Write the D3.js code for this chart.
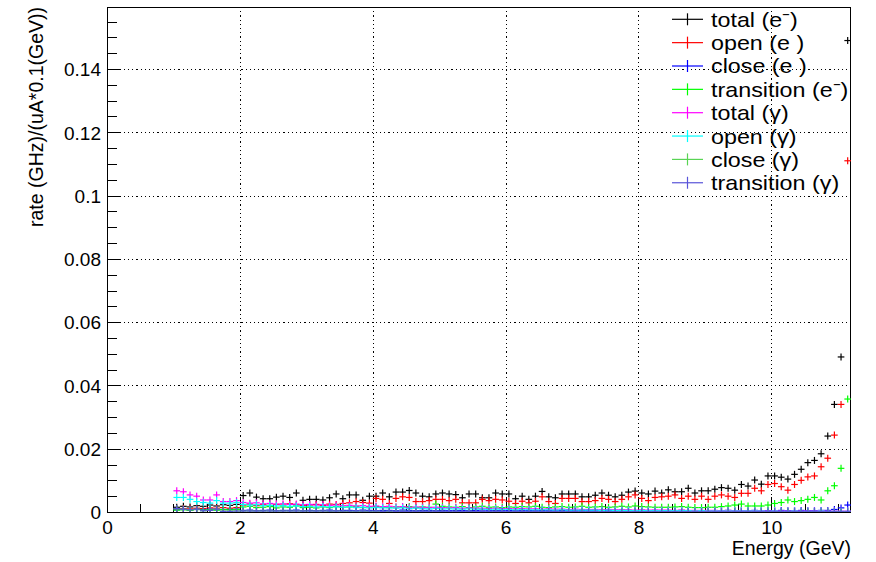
<!DOCTYPE html>
<html><head><meta charset="utf-8">
<script src="https://cdn.jsdelivr.net/npm/d3@7"></script>
<style>
body{margin:0;background:#fff}
svg{display:block}
text{font-family:"Liberation Sans",Arial,Helvetica,sans-serif;fill:#000}
</style>
</head><body>
<svg id="chart" width="876" height="562"></svg>
<script>
// ---------------- data ----------------
const binStart = 1.0, binWidth = 0.1, nBins = 102;
const energies = d3.range(nBins).map(i => +(binStart + binWidth * (i + 0.5)).toFixed(2));

const xTickLabels = ["0", "2", "4", "6", "8", "10"];
const yTickLabels = ["0", "0.02", "0.04", "0.06", "0.08", "0.1", "0.12", "0.14"];

const totalE = [
 0.0015,0.0018,0.0016,0.0020,0.0018,0.0022,0.0019,0.0023,0.0021,0.0024,
 0.0052,0.0060,0.0047,0.0042,0.0042,0.0047,0.0050,0.0046,0.0060,0.0037,
 0.0040,0.0040,0.0038,0.0045,0.0057,0.0042,0.0054,0.0054,0.0037,0.0050,
 0.0050,0.0060,0.0048,0.0063,0.0063,0.0068,0.0060,0.0050,0.0048,0.0057,
 0.0060,0.0057,0.0055,0.0045,0.0057,0.0057,0.0045,0.0045,0.0060,0.0057,
 0.0057,0.0042,0.0050,0.0040,0.0050,0.0065,0.0048,0.0045,0.0057,0.0057,
 0.0057,0.0048,0.0048,0.0053,0.0060,0.0053,0.0048,0.0053,0.0063,0.0066,
 0.0060,0.0057,0.0066,0.0060,0.0070,0.0064,0.0064,0.0075,0.0060,0.0067,
 0.0067,0.0072,0.0077,0.0075,0.0069,0.0087,0.0082,0.0101,0.0088,0.0114,
 0.0114,0.0110,0.0104,0.0119,0.0135,0.0156,0.0163,0.0184,0.0240,0.0340,
 0.0490,0.1490];

const openE = [
 0.0009,0.0011,0.0010,0.0012,0.0011,0.0013,0.0012,0.0014,0.0012,0.0014,
 0.0022,0.0025,0.0020,0.0023,0.0021,0.0024,0.0022,0.0026,0.0023,0.0021,
 0.0022,0.0024,0.0021,0.0025,0.0024,0.0027,0.0029,0.0033,0.0030,0.0028,
 0.0043,0.0040,0.0027,0.0043,0.0048,0.0046,0.0033,0.0033,0.0036,0.0040,
 0.0040,0.0036,0.0040,0.0029,0.0029,0.0029,0.0040,0.0036,0.0040,0.0038,
 0.0034,0.0027,0.0034,0.0029,0.0034,0.0048,0.0033,0.0027,0.0043,0.0043,
 0.0043,0.0033,0.0033,0.0036,0.0043,0.0040,0.0033,0.0040,0.0048,0.0054,
 0.0043,0.0036,0.0046,0.0048,0.0050,0.0054,0.0043,0.0050,0.0040,0.0050,
 0.0040,0.0050,0.0054,0.0050,0.0046,0.0059,0.0059,0.0075,0.0067,0.0087,
 0.0090,0.0080,0.0069,0.0087,0.0100,0.0111,0.0114,0.0143,0.0170,0.0243,
 0.0340,0.1110];

const closeE = [
 0.0007,0.0008,0.0006,0.0008,0.0007,0.0009,0.0007,0.0008,0.0008,0.0009,
 0.0005,0.0006,0.0004,0.0005,0.0006,0.0004,0.0005,0.0005,0.0006,0.0004,
 0.0005,0.0004,0.0005,0.0006,0.0004,0.0005,0.0005,0.0004,0.0006,0.0005,
 0.0004,0.0005,0.0005,0.0004,0.0006,0.0005,0.0004,0.0005,0.0005,0.0004,
 0.0005,0.0004,0.0005,0.0005,0.0004,0.0005,0.0006,0.0004,0.0005,0.0004,
 0.0005,0.0004,0.0004,0.0005,0.0004,0.0005,0.0004,0.0004,0.0005,0.0004,
 0.0004,0.0005,0.0004,0.0004,0.0005,0.0004,0.0004,0.0005,0.0004,0.0004,
 0.0004,0.0004,0.0005,0.0004,0.0004,0.0004,0.0005,0.0004,0.0004,0.0004,
 0.0004,0.0004,0.0004,0.0005,0.0004,0.0004,0.0004,0.0005,0.0004,0.0004,
 0.0004,0.0005,0.0004,0.0004,0.0005,0.0004,0.0004,0.0005,0.0005,0.0008,
 0.0013,0.0022];

const transE = [
 0.0006,0.0007,0.0005,0.0008,0.0006,0.0007,0.0006,0.0008,0.0007,0.0008,
 0.0016,0.0018,0.0014,0.0015,0.0017,0.0013,0.0016,0.0015,0.0019,0.0014,
 0.0015,0.0013,0.0016,0.0014,0.0017,0.0015,0.0016,0.0018,0.0014,0.0016,
 0.0017,0.0015,0.0014,0.0016,0.0015,0.0017,0.0014,0.0016,0.0015,0.0025,
 0.0018,0.0016,0.0015,0.0017,0.0014,0.0016,0.0018,0.0015,0.0016,0.0014,
 0.0016,0.0015,0.0017,0.0016,0.0018,0.0015,0.0014,0.0016,0.0017,0.0015,
 0.0016,0.0018,0.0015,0.0016,0.0017,0.0015,0.0016,0.0018,0.0016,0.0019,
 0.0017,0.0016,0.0015,0.0015,0.0015,0.0016,0.0017,0.0015,0.0014,0.0014,
 0.0015,0.0015,0.0017,0.0019,0.0022,0.0025,0.0019,0.0019,0.0019,0.0022,
 0.0027,0.0030,0.0038,0.0033,0.0036,0.0040,0.0046,0.0038,0.0067,0.0083,
 0.0138,0.0357];

const totalG = [
 0.0067,0.0064,0.0054,0.0050,0.0038,0.0038,0.0054,0.0033,0.0033,0.0036,
 0.0030,0.0028,0.0029,0.0026,0.0027,0.0025,0.0026,0.0024,0.0025,0.0023,
 0.0024,0.0022,0.0023,0.0021,0.0022,0.0020,0.0021,0.0019,0.0020,0.0018,
 0.0019,0.0017,0.0018,0.0016,0.0017,0.0015,0.0016,0.0015,0.0014,0.0015,
 0.0014,0.0013,0.0014,0.0012,0.0013,0.0012,0.0012,0.0011,0.0012,0.0011,
 0.0011,0.0010,0.0011,0.0010,0.0010,0.0009,0.0010,0.0009,0.0009,0.0008,
 0.0009,0.0008,0.0008,0.0008,0.0007,0.0008,0.0007,0.0007,0.0007,0.0006,
 0.0007,0.0006,0.0006,0.0006,0.0006,0.0005,0.0006,0.0005,0.0005,0.0005,
 0.0005,0.0005,0.0004,0.0005,0.0004,0.0004,0.0004,0.0004,0.0004,0.0003,
 0.0004,0.0003,0.0003,0.0004,0.0003,0.0003,0.0003,0.0004,0.0003,0.0003,
 0.0003,0.0003];

const openG = [
 0.0046,0.0046,0.0040,0.0033,0.0030,0.0028,0.0036,0.0028,0.0028,0.0030,
 0.0024,0.0022,0.0023,0.0020,0.0021,0.0019,0.0020,0.0018,0.0019,0.0017,
 0.0018,0.0016,0.0017,0.0016,0.0016,0.0015,0.0016,0.0014,0.0015,0.0013,
 0.0014,0.0013,0.0013,0.0012,0.0013,0.0011,0.0012,0.0011,0.0010,0.0011,
 0.0010,0.0010,0.0010,0.0009,0.0010,0.0009,0.0009,0.0008,0.0009,0.0008,
 0.0008,0.0007,0.0008,0.0007,0.0007,0.0007,0.0007,0.0006,0.0007,0.0006,
 0.0006,0.0006,0.0006,0.0006,0.0005,0.0006,0.0005,0.0005,0.0005,0.0004,
 0.0005,0.0004,0.0004,0.0004,0.0004,0.0004,0.0004,0.0004,0.0003,0.0004,
 0.0003,0.0003,0.0003,0.0003,0.0003,0.0003,0.0003,0.0003,0.0003,0.0002,
 0.0003,0.0002,0.0002,0.0003,0.0002,0.0002,0.0002,0.0003,0.0002,0.0002,
 0.0002,0.0002];

const closeG = [
 0.0010,0.0009,0.0007,0.0008,0.0004,0.0005,0.0009,0.0003,0.0003,0.0003,
 0.0003,0.0003,0.0003,0.0003,0.0003,0.0003,0.0003,0.0003,0.0003,0.0003,
 0.0003,0.0003,0.0003,0.0002,0.0003,0.0002,0.0002,0.0002,0.0002,0.0002,
 0.0002,0.0002,0.0002,0.0002,0.0002,0.0002,0.0002,0.0002,0.0002,0.0002,
 0.0002,0.0001,0.0002,0.0001,0.0002,0.0001,0.0001,0.0001,0.0002,0.0001,
 0.0001,0.0001,0.0001,0.0001,0.0001,0.0001,0.0001,0.0001,0.0001,0.0001,
 0.0001,0.0001,0.0001,0.0001,0.0001,0.0001,0.0001,0.0001,0.0001,0.0001,
 0.0001,0.0001,0.0001,0.0001,0.0001,0.0001,0.0001,0.0001,0.0001,0.0001,
 0.0001,0.0001,0.0001,0.0001,0.0001,0.0001,0.0001,0.0001,0.0001,0.0001,
 0.0001,0.0001,0.0001,0.0001,0.0001,0.0001,0.0001,0.0001,0.0001,0.0001,
 0.0001,0.0001];

const transG = [
 0.0011,0.0009,0.0007,0.0009,0.0004,0.0005,0.0009,0.0002,0.0002,0.0003,
 0.0003,0.0003,0.0003,0.0003,0.0003,0.0003,0.0003,0.0003,0.0003,0.0003,
 0.0003,0.0003,0.0003,0.0003,0.0003,0.0003,0.0003,0.0003,0.0003,0.0003,
 0.0003,0.0002,0.0003,0.0002,0.0002,0.0002,0.0002,0.0002,0.0002,0.0002,
 0.0002,0.0002,0.0002,0.0002,0.0002,0.0002,0.0002,0.0002,0.0002,0.0002,
 0.0002,0.0002,0.0002,0.0002,0.0002,0.0002,0.0002,0.0002,0.0002,0.0001,
 0.0002,0.0001,0.0001,0.0001,0.0001,0.0001,0.0001,0.0001,0.0001,0.0001,
 0.0001,0.0001,0.0001,0.0001,0.0001,0.0001,0.0001,0.0001,0.0001,0.0001,
 0.0001,0.0001,0.0001,0.0001,0.0001,0.0001,0.0001,0.0001,0.0001,0.0001,
 0.0001,0.0001,0.0001,0.0001,0.0001,0.0001,0.0001,0.0001,0.0001,0.0001,
 0.0001,0.0001];

const seriesLabels = ["total (e\u207B)", "open (e )", "close (e )", "transition (e\u207B)", "total (γ)", "open (γ)", "close (γ)", "transition (γ)"];
const seriesColors = ["#000000", "#ff0000", "#0000ff", "#00ff00", "#ff00ff", "#00ffff", "#59d454", "#5954d9"];
const seriesValues = [totalE, openE, closeE, transE, totalG, openG, closeG, transG];

// ---------------- layout ----------------
const M = {left: 107, right: 851, top: 7, bottom: 512};
const xMax = 11.2, yMax = 0.1596;

const svg = d3.select("#chart");
const x = d3.scaleLinear().domain([0, xMax]).range([M.left, M.right]);
const y = d3.scaleLinear().domain([0, yMax]).range([M.bottom, M.top]);

svg.append("defs").append("clipPath").attr("id", "plotclip")
  .append("rect").attr("x", M.left).attr("y", M.top)
  .attr("width", M.right - M.left).attr("height", M.bottom - M.top);

// grid
const xMajor = xTickLabels.map(Number);
const yMajor = yTickLabels.map(Number);
const grid = svg.append("g").attr("stroke", "#000").attr("stroke-width", 1)
  .attr("stroke-dasharray", "1.2,3").attr("shape-rendering", "crispEdges");
xMajor.filter(v => v > 0).forEach(v => {
  grid.append("line").attr("x1", Math.round(x(v)) + 0.5).attr("x2", Math.round(x(v)) + 0.5)
    .attr("y1", M.top).attr("y2", M.bottom);
});
yMajor.filter(v => v > 0).forEach(v => {
  grid.append("line").attr("y1", Math.round(y(v)) + 0.5).attr("y2", Math.round(y(v)) + 0.5)
    .attr("x1", M.left).attr("x2", M.right);
});

// axes (ticks inside)
const yMinor = d3.range(0, yMax, 0.005).filter(v => !yMajor.some(m => Math.abs(m - v) < 1e-9));
const xMinor = d3.range(0, xMax + 1e-9, 0.5).filter(v => !xMajor.some(m => Math.abs(m - v) < 1e-9));

const yAxis = svg.append("g").attr("transform", `translate(${M.left},0)`)
  .call(d3.axisLeft(y).tickValues(yMajor).tickSize(-13).tickPadding(19)
    .tickFormat((d, i) => yTickLabels[i]));
const yAxisMinor = svg.append("g").attr("transform", `translate(${M.left},0)`)
  .call(d3.axisLeft(y).tickValues(yMinor).tickSize(-10).tickFormat(""));
const xAxis = svg.append("g").attr("transform", `translate(0,${M.bottom})`)
  .call(d3.axisBottom(x).tickValues(xMajor).tickSize(-15).tickPadding(24)
    .tickFormat((d, i) => xTickLabels[i]));
const xAxisMinor = svg.append("g").attr("transform", `translate(0,${M.bottom})`)
  .call(d3.axisBottom(x).tickValues(xMinor).tickSize(-8).tickFormat(""));

[yAxis, yAxisMinor, xAxis, xAxisMinor].forEach(g => {
  g.select(".domain").remove();
  g.selectAll(".tick line").attr("stroke", "#000").attr("stroke-width", 1).attr("shape-rendering", "crispEdges");
  g.selectAll("text").attr("font-size", 19).attr("font-family", '"Liberation Sans", Arial, sans-serif').attr("fill", "#000");
});
yAxis.selectAll("text").attr("x", -6).attr("dy", "0.36em");
xAxis.selectAll("text").attr("y", 9).attr("dy", "0.71em");

// frame
svg.append("rect").attr("x", M.left + 0.5).attr("y", M.top + 0.5)
  .attr("width", M.right - M.left - 1).attr("height", M.bottom - M.top)
  .attr("fill", "none").attr("stroke", "#000").attr("stroke-width", 1).attr("shape-rendering", "crispEdges");

// data crosses (bin-width horizontal bar + vertical error bar)
const halfV = 3.5;
const dataG = svg.append("g").attr("clip-path", "url(#plotclip)");
seriesValues.forEach((vals, s) => {
  const g = dataG.append("g").attr("stroke", seriesColors[s]).attr("stroke-width", 1.2);
  vals.forEach((v, i) => {
    const e = energies[i];
    const cx = x(e), cy = y(v);
    g.append("line").attr("x1", x(e - binWidth / 2)).attr("x2", x(e + binWidth / 2))
      .attr("y1", cy).attr("y2", cy);
    g.append("line").attr("x1", cx).attr("x2", cx)
      .attr("y1", cy - halfV).attr("y2", cy + halfV);
  });
});

// axis titles
svg.append("text").attr("transform", `translate(43,${M.top}) rotate(-90)`)
  .attr("text-anchor", "end").attr("font-size", 19.5)
  .text("rate (GHz)/(uA*0.1(GeV))");
svg.append("text").attr("x", M.right).attr("y", 555)
  .attr("text-anchor", "end").attr("font-size", 19.5)
  .text("Energy (GeV)");

// legend
const leg = svg.append("g");
const rowY0 = 19.3, rowDy = 23.35, legFont = 20.8, legStretch = 1.12;
seriesLabels.forEach((lab, i) => {
  const cy = rowY0 + rowDy * i;
  leg.append("line").attr("x1", 672).attr("x2", 703).attr("y1", cy).attr("y2", cy)
    .attr("stroke", seriesColors[i]).attr("stroke-width", 1.2);
  leg.append("line").attr("x1", 687.5).attr("x2", 687.5).attr("y1", cy - 6).attr("y2", cy + 6)
    .attr("stroke", seriesColors[i]).attr("stroke-width", 1.2);
  const t = leg.append("text").attr("x", 711).attr("y", cy).attr("dy", "0.36em")
    .attr("font-size", legFont).text(lab);
  const w = t.node().getComputedTextLength();
  t.attr("textLength", w * legStretch).attr("lengthAdjust", "spacingAndGlyphs");
});
</script>
</body></html>
